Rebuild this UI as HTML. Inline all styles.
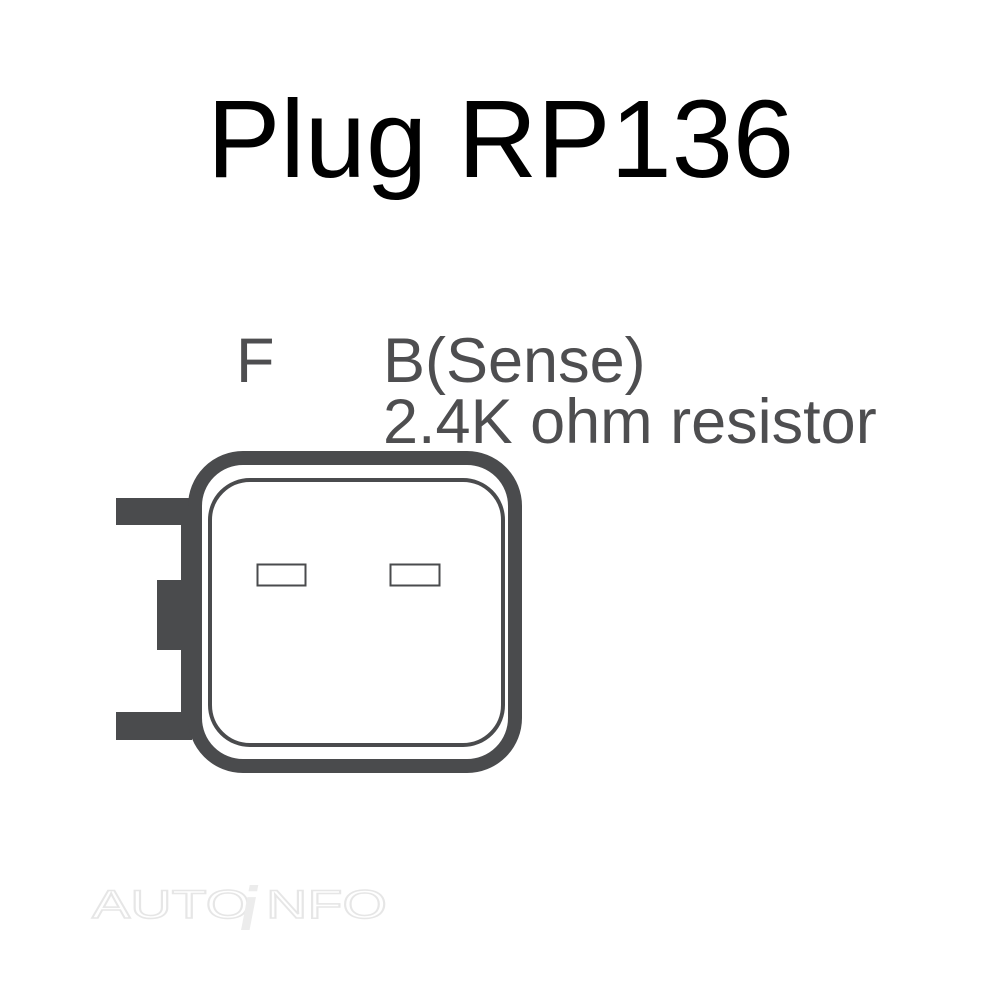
<!DOCTYPE html>
<html><head><style>
html,body{margin:0;padding:0;background:#fff;}
body{width:1000px;height:1000px;overflow:hidden;position:relative;font-family:"Liberation Sans",Arial,sans-serif;}
</style></head><body>
<svg width="1000" height="1000" viewBox="0 0 1000 1000" xmlns="http://www.w3.org/2000/svg" style="position:absolute;left:0;top:0">
<text x="207" y="177" font-family="Liberation Sans, sans-serif" font-size="110" fill="#000">Plug RP136</text>
<g font-family="Liberation Sans, sans-serif" font-size="63" fill="#4e4e50">
<text x="236" y="382">F</text>
<text x="383" y="382">B(Sense)</text>
<text x="383" y="443">2.4K ohm resistor</text>
</g>
<g fill="#4a4b4d">
<rect x="116" y="498" width="76" height="27"/>
<rect x="116" y="712" width="76" height="28"/>
<rect x="157" y="580" width="35" height="70"/>
<rect x="181" y="498" width="11" height="242"/>
</g>
<rect x="195" y="458" width="320" height="308" rx="48" fill="#fff" stroke="#4a4b4d" stroke-width="14"/>
<rect x="210" y="480" width="293" height="265" rx="40" fill="none" stroke="#4a4b4d" stroke-width="4"/>
<rect x="257.5" y="564.5" width="48" height="21" fill="none" stroke="#4a4b4d" stroke-width="2"/>
<rect x="390.5" y="564.5" width="49" height="21" fill="none" stroke="#4a4b4d" stroke-width="2"/>
<text x="92" y="918" font-family="Liberation Sans, sans-serif" font-size="40" fill="none" stroke="#e6e6e6" stroke-width="1.5" textLength="295" lengthAdjust="spacingAndGlyphs">AUTO   NFO</text>
<text x="240" y="930" font-family="Liberation Sans, sans-serif" font-size="62" font-style="italic" font-weight="bold" fill="#ececec">i</text>
</svg>
</body></html>
